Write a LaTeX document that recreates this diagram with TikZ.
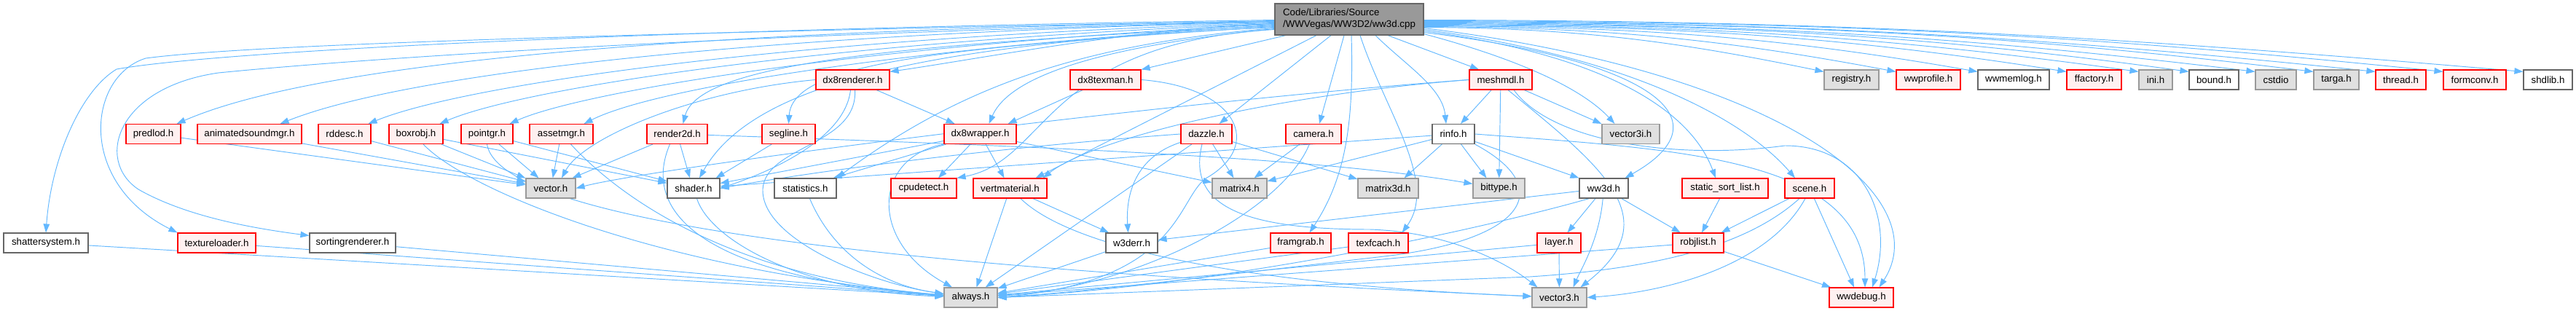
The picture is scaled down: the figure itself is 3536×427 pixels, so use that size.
\documentclass[tikz,border=0pt]{standalone}
\usepackage{fontspec}
\setmainfont{Liberation Sans}
\usetikzlibrary{arrows.meta}
\pgfdeclarelayer{edgelayer}
\pgfsetlayers{edgelayer,main}
\definecolor{edgec}{HTML}{63B8FF}
\definecolor{redb}{HTML}{FF0000}
\definecolor{redf}{HTML}{FFF0F0}
\definecolor{grayf}{HTML}{E0E0E0}
\definecolor{grayb}{HTML}{999999}
\definecolor{whiteb}{HTML}{666666}
\definecolor{mainf}{HTML}{999999}
\begin{document}
\begin{tikzpicture}[x=1pt,y=1pt,
  dnode/.style={draw, line width=1.15pt, minimum height=27pt, inner sep=0pt, font=\fontsize{13.3}{16}\selectfont, text=black},
  rn/.style={dnode, draw=redb, fill=redf},
  gn/.style={dnode, draw=grayb, fill=grayf},
  wn/.style={dnode, draw=whiteb, fill=white},
  ln/.style={draw=edgec, line width=0.95pt, -{Triangle[length=12pt,width=8.5pt]}},
]
\useasboundingbox (0,0) rectangle (3536,-427);
% main
\node[dnode, draw=whiteb, fill=mainf, minimum width=204pt, minimum height=43pt, align=left] (main) at (1852,-26.5) {Code/Libraries/Source\\/WWVegas/WW3D2/ww3d.cpp};
% row 2
\node[rn, minimum width=101pt] (dx8renderer) at (1170.5,-109.5) {dx8renderer.h};
\node[rn, minimum width=97pt] (dx8texman) at (1517.5,-109.5) {dx8texman.h};
\node[rn, minimum width=86pt] (meshmdl) at (2060,-109.5) {meshmdl.h};
\node[gn, minimum width=75pt] (registry) at (2541.5,-109.5) {registry.h};
\node[rn, minimum width=88pt] (wwprofile) at (2647,-109.5) {wwprofile.h};
\node[wn, minimum width=98pt] (wwmemlog) at (2764,-109.5) {wwmemlog.h};
\node[rn, minimum width=75pt] (ffactory) at (2874.5,-109.5) {ffactory.h};
\node[gn, minimum width=46pt] (ini) at (2959,-109.5) {ini.h};
\node[wn, minimum width=68pt] (bound) at (3039,-109.5) {bound.h};
\node[gn, minimum width=56pt] (cstdio) at (3124,-109.5) {cstdio};
\node[gn, minimum width=62pt] (targa) at (3207,-109.5) {targa.h};
\node[rn, minimum width=69pt] (thread) at (3295.5,-109.5) {thread.h};
\node[rn, minimum width=86pt] (formconv) at (3397,-109.5) {formconv.h};
\node[wn, minimum width=67pt] (shdlib) at (3497.5,-109.5) {shdlib.h};
% row 3
\node[rn, minimum width=75pt] (predlod) at (210.5,-184) {predlod.h};
\node[rn, minimum width=143pt] (animatedsoundmgr) at (342.5,-184) {animatedsoundmgr.h};
\node[rn, minimum width=72pt] (rddesc) at (473,-184) {rddesc.h};
\node[rn, minimum width=74pt] (boxrobj) at (571,-184) {boxrobj.h};
\node[rn, minimum width=71pt] (pointgr) at (668.5,-184) {pointgr.h};
\node[rn, minimum width=87pt] (assetmgr) at (770.5,-184) {assetmgr.h};
\node[rn, minimum width=83pt] (render2d) at (929.5,-184) {render2d.h};
\node[rn, minimum width=73pt] (segline) at (1082.5,-184) {segline.h};
\node[rn, minimum width=99pt] (dx8wrapper) at (1345.5,-184) {dx8wrapper.h};
\node[rn, minimum width=70pt] (dazzle) at (1656,-184) {dazzle.h};
\node[rn, minimum width=76pt] (camera) at (1803,-184) {camera.h};
\node[wn, minimum width=58pt] (rinfo) at (1995,-184) {rinfo.h};
\node[gn, minimum width=79pt] (vector3i) at (2238.5,-184) {vector3i.h};
% row 4
\node[gn, minimum width=68pt] (vector) at (756,-258.5) {vector.h};
\node[wn, minimum width=72pt] (shader) at (952,-258.5) {shader.h};
\node[wn, minimum width=85pt] (statistics) at (1105.5,-258.5) {statistics.h};
\node[rn, minimum width=90pt] (cpudetect) at (1268,-258.5) {cpudetect.h};
\node[rn, minimum width=101pt] (vertmaterial) at (1386.5,-258.5) {vertmaterial.h};
\node[gn, minimum width=75pt] (matrix4) at (1701.5,-258.5) {matrix4.h};
\node[gn, minimum width=83pt] (matrix3d) at (1905.5,-258.5) {matrix3d.h};
\node[gn, minimum width=71pt] (bittype) at (2057.5,-258.5) {bittype.h};
\node[wn, minimum width=67pt] (ww3d) at (2201.5,-258.5) {ww3d.h};
\node[rn, minimum width=118pt] (staticsort) at (2368,-258.5) {static\_sort\_list.h};
\node[rn, minimum width=68pt] (scene) at (2484,-258.5) {scene.h};
% row 5
\node[wn, minimum width=116pt] (shattersystem) at (63,-333.5) {shattersystem.h};
\node[rn, minimum width=107pt] (textureloader) at (297.5,-333.5) {textureloader.h};
\node[wn, minimum width=118pt] (sortingrenderer) at (484,-333.5) {sortingrenderer.h};
\node[wn, minimum width=71pt] (w3derr) at (1553.5,-333.5) {w3derr.h};
\node[rn, minimum width=83pt] (framgrab) at (1785.5,-333.5) {framgrab.h};
\node[rn, minimum width=82pt] (texfcach) at (1892,-333.5) {texfcach.h};
\node[rn, minimum width=60pt] (layer) at (2140,-333.5) {layer.h};
\node[rn, minimum width=70pt] (robjlist) at (2331,-333.5) {robjlist.h};
% row 6
\node[gn, minimum width=73pt] (always) at (1332.5,-408.5) {always.h};
\node[gn, minimum width=75pt] (vector3) at (2140.5,-408.5) {vector3.h};
\node[rn, minimum width=88pt] (wwdebug) at (2555,-408.5) {wwdebug.h};

\begin{pgfonlayer}{edgelayer}
% ---- edges from main, right side to row 2
\draw[ln] ([yshift=-11pt]main.east) .. controls (2174,-38.5) and (2311.5,-59) .. ([yshift=-3pt]registry.north west);
\draw[ln] ([yshift=-10pt]main.east) .. controls (2214,-37.5) and (2376,-56) .. ([yshift=-3pt]wwprofile.north west);
\draw[ln] ([yshift=-9pt]main.east) .. controls (2258,-36.5) and (2449,-52) .. ([yshift=-3pt]wwmemlog.north west);
\draw[ln] ([yshift=-8pt]main.east) .. controls (2307,-35.5) and (2528,-50) .. ([yshift=-3pt]ffactory.north west);
\draw[ln] ([yshift=-7pt]main.east) .. controls (2347,-34.5) and (2592,-51) .. ([yshift=-3pt]ini.north west);
\draw[ln] ([yshift=-6pt]main.east) .. controls (2374,-33.5) and (2637,-47.5) .. ([yshift=-3pt]bound.north west);
\draw[ln] ([yshift=-5pt]main.east) .. controls (2411,-32.5) and (2696,-50) .. ([yshift=-3pt]cstdio.north west);
\draw[ln] ([yshift=-4pt]main.east) .. controls (2443,-31.5) and (2748,-46) .. ([yshift=-3pt]targa.north west);
\draw[ln] ([yshift=-3pt]main.east) .. controls (2477,-30.5) and (2804,-51) .. ([yshift=-3pt]thread.north west);
\draw[ln] ([yshift=-2pt]main.east) .. controls (2514,-29.5) and (2864,-48) .. ([yshift=-3pt]formconv.north west);
\draw[ln] ([yshift=-1pt]main.east) .. controls (2558,-28.5) and (2936,-53) .. ([yshift=-3pt]shdlib.north west);
% ---- main, right-bottom
\draw[ln] ([yshift=2pt]main.south east) .. controls (2080,-80) and (2170,-120) .. ([xshift=-22pt]vector3i.north);
\draw[ln] ([yshift=4pt]main.south east) .. controls (2250,-80) and (2380,-160) .. ([xshift=-5pt]ww3d.north east);
\draw[ln] ([yshift=6pt]main.south east) .. controls (2200,-75) and (2320,-150) .. ([xshift=-13pt]staticsort.north);
\draw[ln] ([yshift=8pt]main.south east) .. controls (2250,-80) and (2400,-170) .. ([xshift=-20pt]scene.north);
\draw[ln] ([yshift=10pt]main.south east) .. controls (2450,-100) and (2660,-270) .. ([xshift=-20pt]wwdebug.north east);
% ---- main, bottom
\draw[ln] ([xshift=-87pt]main.south) -- (dx8texman.north east);
\draw[ln] ([xshift=-45pt]main.south) -- ([xshift=-16pt]vertmaterial.north east);
\draw[ln] ([xshift=-25pt]main.south) -- ([xshift=-18pt]dazzle.north east);
\draw[ln] ([xshift=-7pt]main.south) -- ([xshift=8pt]camera.north);
\draw[ln] ([xshift=3pt]main.south) .. controls (1858,-160) and (1850,-240) .. ([xshift=12pt]framgrab.north);
\draw[ln] ([xshift=15pt]main.south) .. controls (1900,-150) and (1975,-250) .. ([xshift=-9pt]texfcach.north east);
\draw[ln] ([xshift=36pt]main.south) .. controls (1930,-90) and (1980,-120) .. ([xshift=-10pt]rinfo.north);
\draw[ln] ([xshift=53pt]main.south) -- ([xshift=-30pt]meshmdl.north);
% ---- main, left side
\draw[ln] ([yshift=-1pt]main.west) .. controls (900,-40) and (300,-70) .. (160,-95) .. controls (110,-125) and (70,-220) .. (shattersystem.north);
\draw[ln] ([yshift=-2pt]main.west) .. controls (900,-45) and (350,-60) .. (200,-80) .. controls (120,-105) and (105,-250) .. (textureloader.north west);
\draw[ln] ([yshift=-3pt]main.west) .. controls (900,-50) and (450,-85) .. (300,-100) .. controls (160,-120) and (130,-220) .. (190,-260) .. controls (260,-300) and (360,-315) .. ([yshift=10pt]sortingrenderer.west);
\draw[ln] ([yshift=-3pt]main.west) .. controls (1000,-40) and (450,-80) .. ([xshift=-6pt]predlod.north east);
\draw[ln] ([yshift=-4pt]main.west) .. controls (1050,-45) and (560,-100) .. ([xshift=-30pt]animatedsoundmgr.north east);
\draw[ln] ([yshift=-5pt]main.west) .. controls (1100,-50) and (640,-115) .. ([xshift=-4pt]rddesc.north east);
\draw[ln] ([yshift=-6pt]main.west) .. controls (1150,-55) and (720,-120) .. ([xshift=-5pt]boxrobj.north east);
\draw[ln] ([yshift=-7pt]main.west) .. controls (1200,-60) and (800,-125) .. ([xshift=-5pt]pointgr.north east);
\draw[ln] ([yshift=-8pt]main.west) .. controls (1250,-65) and (900,-120) .. ([xshift=-13pt]assetmgr.north east);
\draw[ln] ([yshift=-9pt]main.west) .. controls (1250,-60) and (960,-85) .. ([xshift=8pt]render2d.north);
\draw[ln] ([yshift=-10pt]main.west) .. controls (1300,-65) and (1088,-85) .. (segline.north);
\draw[ln] ([yshift=-11pt]main.west) .. controls (1250,-60) and (1030,-120) .. ([xshift=8pt]shader.north);
\draw[ln] ([yshift=-6pt]main.west) .. controls (1550,-40) and (1350,-80) .. ([yshift=-3pt]dx8renderer.north east);
\draw[ln] ([yshift=-12pt]main.west) .. controls (1500,-60) and (1330,-110) .. (statistics.north east);
\draw[ln] ([yshift=-13pt]main.west) .. controls (1550,-60) and (1390,-95) .. ([xshift=12pt]dx8wrapper.north);
\draw[ln] ([yshift=-14pt]main.west) .. controls (1430,-60) and (1440,-220) .. (cpudetect.north east);

% ---- secondary edges
\draw[ln] (predlod) -- (vector);
\draw[ln] (animatedsoundmgr) -- (vector);
\draw[ln] (rddesc) -- (vector);
\draw[ln] (boxrobj) -- (vector);
\draw[ln] (boxrobj) -- (shader);
\draw[ln] ([xshift=10pt]boxrobj.south) .. controls (640,-260) and (900,-370) .. (always);
\draw[ln] (pointgr) -- (vector);
\draw[ln] (pointgr) -- (shader);
\draw[ln] (pointgr.south) .. controls (690,-330) and (1500,-380) .. (vector3);
\draw[ln] (assetmgr) -- (vector);
\draw[ln] (assetmgr) .. controls (850,-270) and (1000,-380) .. (always);
\draw[ln] (render2d) -- ([xshift=-5pt]vector.north east);
\draw[ln] (render2d) -- ([xshift=-5pt]shader.north);
\draw[ln] ([xshift=-10pt]render2d.south) .. controls (880,-290) and (960,-380) .. (always);
\draw[ln] (render2d) .. controls (1400,-200) and (1800,-215) .. (bittype);
\draw[ln] (segline) -- ([xshift=-6pt]shader.north east);
\draw[ln] (dx8renderer.west) .. controls (950,-125) and (800,-190) .. ([xshift=15pt]vector.north);
\draw[ln] ([xshift=-3pt]dx8renderer.south) .. controls (1160,-190) and (1060,-235) .. (shader.east);
\draw[ln] ([xshift=3pt]dx8renderer.south) .. controls (1178,-200) and (1050,-200) .. (1047,-260) .. controls (1045,-330) and (1200,-390) .. (always);
\draw[ln] (dx8renderer) -- ([xshift=-35pt]dx8wrapper.north);
\draw[ln] (dx8texman) -- ([xshift=-12pt]dx8wrapper.north east);
\draw[ln] (dx8texman.east) .. controls (1700,-120) and (1735,-200) .. (1655,-245) .. controls (1615,-275) and (1620,-385) .. (always.east);
\draw[ln] (dx8wrapper) -- (shader);
\draw[ln] (dx8wrapper) -- ([xshift=-5pt]statistics.north east);
\draw[ln] (dx8wrapper) -- ([xshift=20pt]cpudetect.north);
\draw[ln] (dx8wrapper) -- ([xshift=-8pt]vertmaterial.north);
\draw[ln] (dx8wrapper) -- (matrix4);
\draw[ln] (dx8wrapper.south west) .. controls (1200,-215) and (1190,-330) .. (always);
\draw[ln] (vertmaterial) -- ([xshift=8pt]always.north);
\draw[ln] (vertmaterial) -- (w3derr);
\draw[ln] (vertmaterial) .. controls (1470,-340) and (1700,-390) .. (vector3);
\draw[ln] (w3derr) -- (always);
\draw[ln] (dazzle) -- ([xshift=-8pt]matrix4.north);
\draw[ln] (dazzle) .. controls (1560,-215) and (1545,-265) .. ([xshift=-5pt]w3derr.north);
\draw[ln] (dazzle) -- (always);
\draw[ln] (dazzle.west) .. controls (1400,-200) and (1150,-230) .. (shader.east);
\draw[ln] (dazzle) -- (matrix3d);
\draw[ln] ([xshift=-6pt]dazzle.south) .. controls (1630,-280) and (1700,-315) .. (1880,-315) .. controls (1980,-318) and (2060,-355) .. ([xshift=8pt]vector3.north west);
\draw[ln] (camera) -- ([xshift=20pt]matrix4.north);
\draw[ln] (camera) .. controls (1760,-290) and (1560,-395) .. (always);
\draw[ln] (framgrab) -- (always);
\draw[ln] (texfcach) -- (always);
\draw[ln] (rinfo) -- ([xshift=22pt]matrix3d.north);
\draw[ln] (rinfo) -- ([xshift=-17pt]bittype.north);
\draw[ln] (rinfo) -- (ww3d.north west);
\draw[ln] (rinfo) -- (matrix4);
\draw[ln] (rinfo) -- (shader);
\draw[ln] (rinfo.east) .. controls (2300,-205) and (2560,-215) .. ([xshift=5pt]wwdebug.north);
\draw[ln] (rinfo.south east) .. controls (2140,-260) and (2090,-330) .. (1900,-352) .. controls (1700,-375) and (1500,-400) .. (always.east);
\draw[ln] (meshmdl) -- ([xshift=10pt]rinfo.north);
\draw[ln] (meshmdl) -- (bittype);
\draw[ln] (meshmdl) -- (vector3i.north west);
\draw[ln] ([xshift=10pt]meshmdl.south) .. controls (2200,-230) and (2290,-300) .. ([xshift=29pt]vector3.north);
\draw[ln] ([xshift=18pt]meshmdl.south) .. controls (2130,-195) and (2300,-220) .. (2450,-200) .. controls (2560,-200) and (2600,-300) .. ([xshift=15pt]wwdebug.north);
\draw[ln] (meshmdl.west) .. controls (1750,-130) and (1500,-190) .. ([xshift=-6pt]vertmaterial.north east);
\draw[ln] (meshmdl.west) .. controls (1600,-140) and (900,-230) .. (vector.east);
\draw[ln] (ww3d) -- (layer);
\draw[ln] (ww3d) .. controls (2195,-330) and (2170,-370) .. ([xshift=19pt]vector3.north);
\draw[ln] (ww3d) -- (robjlist);
\draw[ln] (ww3d) -- (w3derr);
\draw[ln] ([xshift=-20pt]ww3d.south) .. controls (2050,-310) and (1700,-390) .. (always.east);
\draw[ln] (layer) -- (vector3);
\draw[ln] (layer) -- (always);
\draw[ln] (staticsort) -- ([xshift=5pt]robjlist.north);
\draw[ln] (scene) -- ([xshift=-4pt]robjlist.north east);
\draw[ln] (scene) -- ([xshift=-10pt]wwdebug.north);
\draw[ln] ([xshift=-14pt]scene.south) .. controls (2390,-345) and (2250,-370) .. (2100,-380) -- (always.east);
\draw[ln] ([xshift=-6pt]scene.south) .. controls (2430,-360) and (2300,-400) .. (vector3.east);
\draw[ln] (robjlist) -- (wwdebug);
\draw[ln] (robjlist) -- (always);
\draw[ln] (statistics) .. controls (1140,-340) and (1200,-390) .. (always);
\draw[ln] (shader) .. controls (975,-330) and (1100,-400) .. (always);
\draw[ln] (shattersystem) -- (always);
\draw[ln] (textureloader) -- (always);
\draw[ln] (sortingrenderer) -- (always);
\end{pgfonlayer}
\end{tikzpicture}
\end{document}
